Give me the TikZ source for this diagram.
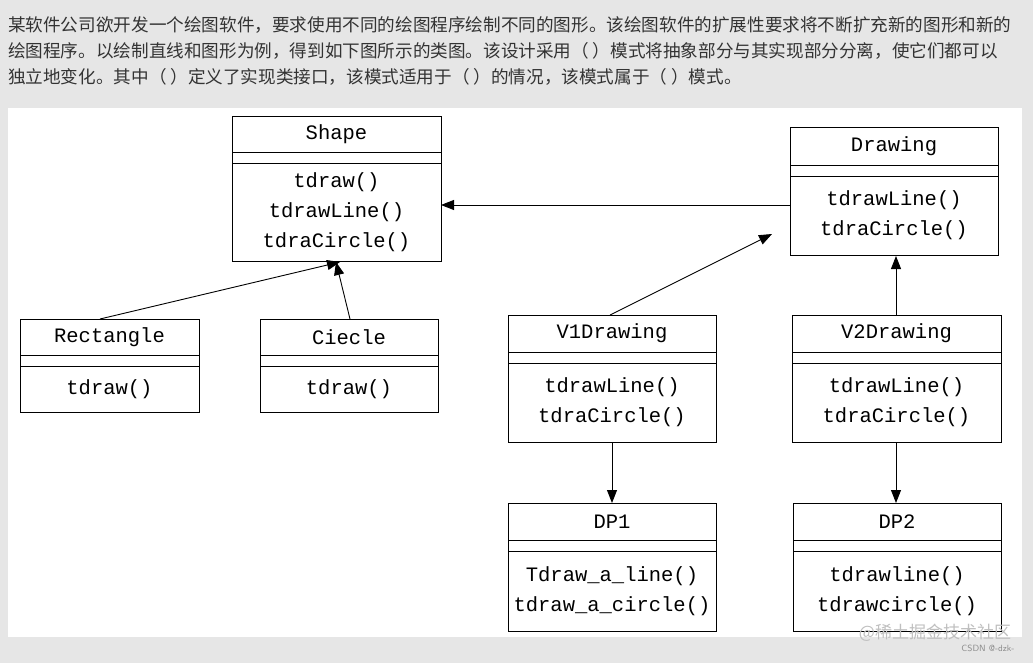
\documentclass[tikz,border=0pt]{standalone}
\usepackage{fontspec}
\setmonofont{Liberation Mono}
\newfontfamily\cjk{Noto Sans CJK SC}
\usetikzlibrary{arrows.meta}
\definecolor{bgg}{HTML}{E6E6E6}
\definecolor{txt}{HTML}{333333}
\tikzset{
 cls/.style={draw=black,line width=0.9pt},
 mth/.style={font=\ttfamily\fontsize{20.5}{30}\selectfont,align=center,inner sep=0pt},
 arr/.style={line width=0.9pt,-{Triangle[length=13pt,width=10pt]}},
 qline/.style={anchor=west,inner sep=0pt,text=txt,font=\cjk\fontsize{17.6}{20}\selectfont}
}
\newcommand{\umlbox}[8]{% name x1 y1 x2 y2 l1 title methods
 \draw[cls] (#2,#3) rectangle (#4,#5);
 \draw[cls] (#2,#6) -- (#4,#6);
 \draw[cls] (#2,#6+11) -- (#4,#6+11);
 \node[mth] (#1t) at ({(#2+#4)/2},{(#3+#6)/2}) {#7};
 \node[mth] (#1m) at ({(#2+#4)/2},{(#6+11+#5)/2}) {#8};
 \coordinate (#1) at ({(#2+#4)/2},{(#3+#5)/2});
}
\begin{document}
\begin{tikzpicture}[x=1pt,y=-1pt]
\fill[bgg] (0,0) rectangle (1033,663);
\useasboundingbox (0,0) rectangle (1033,663);
\fill[white] (8,108) rectangle (1022,637);
\node[qline] (q1) at (8,25) {某软件公司欲开发一个绘图软件，要求使用不同的绘图程序绘制不同的图形。该绘图软件的扩展性要求将不断扩充新的图形和新的};
\node[qline] (q2) at (8,51) {绘图程序。以绘制直线和图形为例，得到如下图所示的类图。该设计采用（ ）模式将抽象部分与其实现部分分离，使它们都可以};
\node[qline] (q3) at (8,77) {独立地变化。其中（ ）定义了实现类接口，该模式适用于（ ）的情况，该模式属于（ ）模式。};

\umlbox{shape}{232}{116}{441}{261}{152}{Shape}{tdraw()\\tdrawLine()\\tdraCircle()}
\umlbox{drawing}{790}{127}{998}{255}{165}{Drawing}{tdrawLine()\\tdraCircle()}
\umlbox{rect}{20}{319}{199}{412}{355}{Rectangle}{tdraw()}
\umlbox{circ}{260}{319}{438}{412}{355}{Ciecle}{tdraw()}
\umlbox{v1}{508}{315}{716}{442}{352}{V1Drawing}{tdrawLine()\\tdraCircle()}
\umlbox{v2}{792}{315}{1001}{442}{352}{V2Drawing}{tdrawLine()\\tdraCircle()}
\umlbox{dp1}{508}{503}{716}{631}{540}{DP1}{Tdraw\_a\_line()\\tdraw\_a\_circle()}
\umlbox{dp2}{793}{503}{1001}{631}{540}{DP2}{tdrawline()\\tdrawcircle()}

\coordinate (v1end) at (772,234);
\draw[arr] (790,205) -- (441,205);
\draw[arr] (100,319) -- (340,262);
\draw[arr] (350,319) -- (336,262);
\draw[arr] (610,315) -- (v1end);
\draw[arr] (896,315) -- (896,256);
\draw[arr] (612,442) -- (612,503);
\draw[arr] (896,442) -- (896,503);

\node[text=black!25,font=\cjk\fontsize{17}{20}\selectfont,inner sep=0pt] (wm) at (935,633) {@稀土掘金技术社区};
\node[text=black!45,font=\sffamily\fontsize{9}{10}\selectfont,inner sep=0pt] (wm2) at (988,648) {CSDN @-dzk-};
\end{tikzpicture}
\end{document}
